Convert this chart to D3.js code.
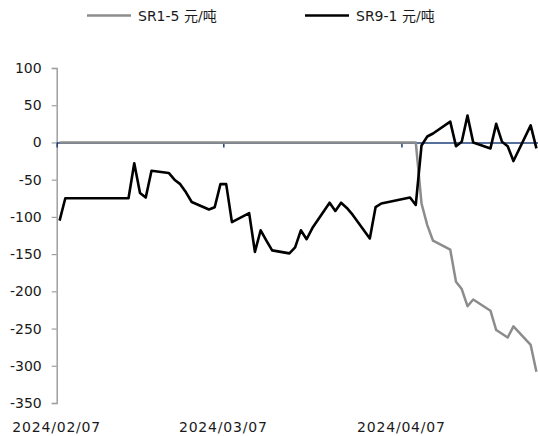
<!DOCTYPE html>
<html>
<head>
<meta charset="utf-8">
<script src="https://cdn.jsdelivr.net/npm/d3@7"></script>
<style>
  body { margin: 0; background: #ffffff; }
  svg text { font-family: "DejaVu Sans", "Noto Sans CJK SC", sans-serif; fill: #1a1a1a; }
</style>
</head>
<body>
<svg id="chart" width="538" height="436"></svg>
<script>
// Trading days shown on the chart
const tradeDates = [
  "2024-02-07","2024-02-08","2024-02-19","2024-02-20","2024-02-21","2024-02-22","2024-02-23",
  "2024-02-26","2024-02-27","2024-02-28","2024-02-29","2024-03-01",
  "2024-03-04","2024-03-05","2024-03-06","2024-03-07","2024-03-08",
  "2024-03-11","2024-03-12","2024-03-13","2024-03-14","2024-03-15",
  "2024-03-18","2024-03-19","2024-03-20","2024-03-21","2024-03-22",
  "2024-03-25","2024-03-26","2024-03-27","2024-03-28","2024-03-29",
  "2024-04-01","2024-04-02","2024-04-03",
  "2024-04-08","2024-04-09","2024-04-10","2024-04-11","2024-04-12",
  "2024-04-15","2024-04-16","2024-04-17","2024-04-18","2024-04-19",
  "2024-04-22","2024-04-23","2024-04-24","2024-04-25","2024-04-26",
  "2024-04-29","2024-04-30"
];

// SR1-5 spread (yuan/ton)
const sr15 = [
  0,0,0,0,0,0,0,
  0,0,0,0,0,
  0,0,0,0,0,
  0,0,0,0,0,
  0,0,0,0,0,
  0,0,0,0,0,
  0,0,0,
  0,0,-82,-111,-132,
  -144,-187,-197,-220,-211,
  -226,-252,-257,-262,-247,
  -272,-308
];

// SR9-1 spread (yuan/ton)
const sr91 = [
  -105,-75,-75,-28,-68,-74,-38,
  -41,-50,-56,-67,-80,
  -90,-87,-56,-56,-107,
  -95,-147,-118,-132,-145,
  -149,-141,-118,-130,-115,
  -81,-92,-81,-88,-97,
  -129,-87,-82,
  -74,-84,-4,8,12,
  28,-5,1,36,0,
  -8,25,1,-5,-25,
  23,-8
];

const seriesNames = ["SR1-5 元/吨", "SR9-1 元/吨"];
const seriesColors = ["#8c8c8c", "#000000"];
const yTicks = [100, 50, 0, -50, -100, -150, -200, -250, -300, -350];
const xTickDates = ["2024-02-07", "2024-03-07", "2024-04-07"];
const xTickLabels = ["2024/02/07", "2024/03/07", "2024/04/07"];

const svg = d3.select("#chart");
const parse = d3.utcParse("%Y-%m-%d");
const HALF_DAY = 12 * 3600 * 1000;

// Date axis: each trading day sits in the middle of its calendar-day slot
const x = d3.scaleUtc()
  .domain([parse("2024-02-07"), parse("2024-05-01")])
  .range([56.7, 539.3]);

const y = d3.scaleLinear()
  .domain([-350, 100])
  .range([403, 68]);

const px = d => x(new Date(parse(d).getTime() + HALF_DAY));

// Y axis (plain hyphen for negatives)
const yAxis = svg.append("g")
  .attr("transform", `translate(${x.range()[0]},0)`)
  .call(d3.axisLeft(y).tickValues(yTicks).tickSize(5).tickPadding(10).tickFormat(d => String(d)));
yAxis.select(".domain").attr("stroke", "#a0a0a0").attr("stroke-width", 1.5);
yAxis.selectAll(".tick line").attr("stroke", "#a0a0a0").attr("stroke-width", 1.2);
yAxis.selectAll(".tick text").attr("font-size", 14).attr("fill", "#1a1a1a")
  .style("font-family", "'DejaVu Sans', sans-serif");

// X axis line at zero with month ticks
const xAxis = svg.append("g")
  .attr("transform", `translate(0,${y(0)})`)
  .call(d3.axisBottom(x).tickValues(xTickDates.map(parse)).tickSize(5).tickSizeOuter(0).tickFormat(""));
xAxis.select(".domain").attr("stroke", "#1f3f7a").attr("stroke-width", 1.5);
xAxis.selectAll(".tick line").attr("stroke", "#1f3f7a").attr("stroke-width", 1.5);

// Date labels along the bottom
svg.append("g").selectAll("text")
  .data(xTickDates)
  .join("text")
  .attr("x", d => x(parse(d)))
  .attr("y", 432)
  .attr("text-anchor", "middle")
  .attr("font-size", 14)
  .attr("letter-spacing", 0.8)
  .text((d, i) => xTickLabels[i]);

// Series lines
const line = d3.line()
  .x((d, i) => px(tradeDates[i]))
  .y(d => y(d));

[sr15, sr91].forEach((vals, k) => {
  svg.append("path")
    .datum(vals)
    .attr("fill", "none")
    .attr("stroke", seriesColors[k])
    .attr("stroke-width", k === 0 ? 2.5 : 2.6)
    .attr("stroke-linejoin", "round")
    .attr("d", line);
});

// Legend
const legendX = [87, 305];
const leg = svg.append("g");
seriesNames.forEach((name, k) => {
  leg.append("line")
    .attr("x1", legendX[k]).attr("x2", legendX[k] + 44)
    .attr("y1", 15.5).attr("y2", 15.5)
    .attr("stroke", seriesColors[k])
    .attr("stroke-width", 2.6);
  leg.append("text")
    .attr("x", legendX[k] + 51)
    .attr("y", 20.5)
    .attr("font-size", 14)
    .text(name);
});
</script>
</body>
</html>
